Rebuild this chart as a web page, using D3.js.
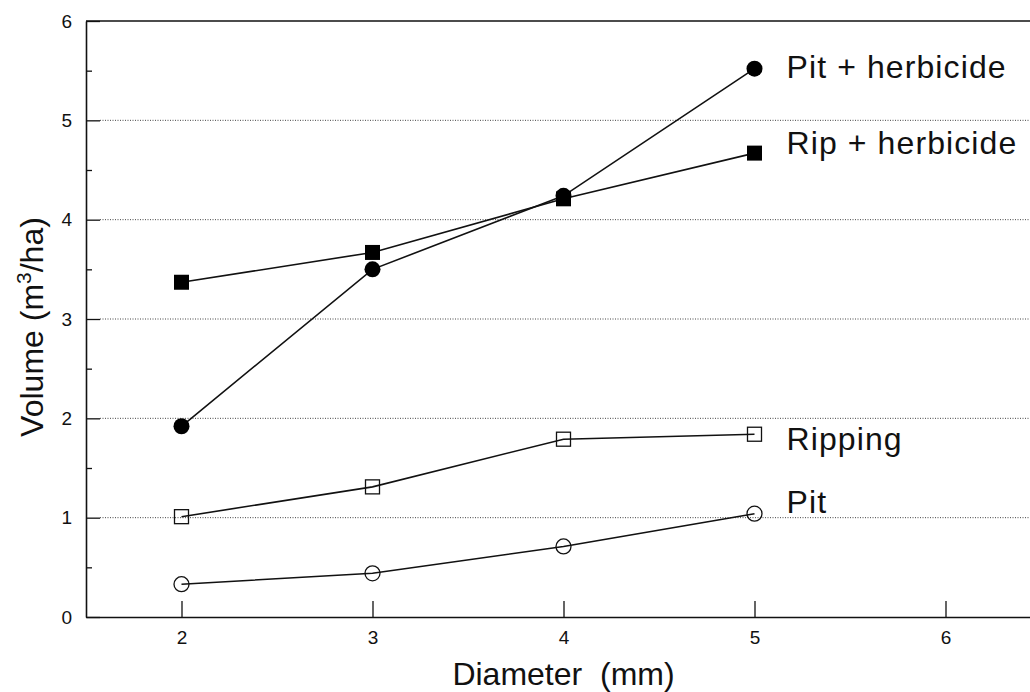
<!DOCTYPE html>
<html>
<head>
<meta charset="utf-8">
<script src="https://cdn.jsdelivr.net/npm/d3@7"></script>
<style>
  html, body { margin: 0; padding: 0; background: #fff; }
  svg { display: block; font-family: "Liberation Sans", Arial, Helvetica, sans-serif; }
</style>
</head>
<body>
<svg id="chart" width="1030" height="692"></svg>
<script>
// ---- data ----
const diameters = [2, 3, 4, 5];
const pitHerbicide = [1.92, 3.50, 4.24, 5.52];
const ripHerbicide = [3.37, 3.67, 4.21, 4.67];
const ripping = [1.01, 1.31, 1.79, 1.84];
const pit = [0.33, 0.44, 0.71, 1.04];
const seriesNames = ["Pit + herbicide", "Rip + herbicide", "Ripping", "Pit"];
const xTicks = [2, 3, 4, 5, 6];
const yTicks = [0, 1, 2, 3, 4, 5, 6];
const yMinorTicks = [0.5, 1.5, 2.5, 3.5, 4.5, 5.5];
const yGrid = [1, 2, 3, 4, 5];
const xTitle = "Diameter  (mm)";

// ---- layout ----
const svg = d3.select("#chart");
const x = d3.scaleLinear().domain([1.5, 6.5]).range([86, 1041]);
const y = d3.scaleLinear().domain([0, 6]).range([617, 21]);

const series = [
  { name: seriesNames[0], values: pitHerbicide, marker: "circle", filled: true, dy: 9 },
  { name: seriesNames[1], values: ripHerbicide, marker: "square", filled: true, dy: 1 },
  { name: seriesNames[2], values: ripping, marker: "square", filled: false, dy: 16 },
  { name: seriesNames[3], values: pit, marker: "circle", filled: false, dy: -1 }
];

// grid lines (dotted)
svg.append("g").selectAll("line").data(yGrid).join("line")
  .attr("x1", 100).attr("x2", x.range()[1])
  .attr("y1", d => y(d)).attr("y2", d => y(d))
  .attr("stroke", "#444").attr("stroke-width", 1)
  .attr("stroke-dasharray", "1,1.5");

// top frame
svg.append("line")
  .attr("x1", x.range()[0]).attr("x2", x.range()[1])
  .attr("y1", y(6)).attr("y2", y(6))
  .attr("stroke", "#111").attr("stroke-width", 1.6);

// y axis major
svg.append("g").attr("transform", `translate(${x.range()[0]},0)`)
  .call(d3.axisLeft(y).tickValues(yTicks).tickSize(-14).tickSizeOuter(0).tickPadding(14)
    .tickFormat(d3.format("d")));
// y axis minor
svg.append("g").attr("transform", `translate(${x.range()[0]},0)`)
  .call(d3.axisLeft(y).tickValues(yMinorTicks).tickSize(-6).tickSizeOuter(0).tickFormat(""))
  .call(g => g.select(".domain").remove());

// x axis
svg.append("g").attr("transform", `translate(0,${y.range()[0]})`)
  .call(d3.axisBottom(x).tickValues(xTicks).tickSize(-16).tickSizeOuter(0).tickPadding(14)
    .tickFormat(d3.format("d")));

svg.selectAll(".domain").attr("stroke", "#111").attr("stroke-width", 1.6);
svg.selectAll(".tick line").attr("stroke", "#111").attr("stroke-width", 1.3);
svg.selectAll(".tick text").attr("font-size", 19).attr("fill", "#111")
  .attr("font-family", "'Liberation Sans', Arial, sans-serif");

// lines
const line = d3.line().x((d, i) => x(diameters[i])).y(d => y(d));
svg.append("g").selectAll("path").data(series).join("path")
  .attr("d", s => line(s.values))
  .attr("fill", "none").attr("stroke", "#111").attr("stroke-width", 1.6);

// markers
series.forEach(s => {
  const g = svg.append("g");
  const pts = s.values.map((v, i) => ({ x: diameters[i], y: v }));
  if (s.marker === "circle") {
    g.selectAll("circle").data(pts).join("circle")
      .attr("cx", d => x(d.x)).attr("cy", d => y(d.y))
      .attr("r", s.filled ? 8 : 7.5)
      .attr("fill", s.filled ? "#000" : "none")
      .attr("stroke", "#111").attr("stroke-width", s.filled ? 0 : 1.3);
  } else {
    const sz = s.filled ? 15 : 14;
    g.selectAll("rect").data(pts).join("rect")
      .attr("x", d => x(d.x) - sz / 2).attr("y", d => y(d.y) - sz / 2)
      .attr("width", sz).attr("height", sz)
      .attr("fill", s.filled ? "#000" : "none")
      .attr("stroke", "#111").attr("stroke-width", s.filled ? 0 : 1.3);
  }
  // series label
  const last = s.values.length - 1;
  svg.append("text")
    .attr("x", x(diameters[last]) + 32)
    .attr("y", y(s.values[last]) + s.dy)
    .attr("font-size", 32).attr("fill", "#111")
    .attr("letter-spacing", 1.1)
    .text(s.name);
});

// axis titles
svg.append("text")
  .attr("x", (x(1.5) + x(6.5)) / 2).attr("y", 685)
  .attr("text-anchor", "middle").attr("font-size", 32).attr("fill", "#111")
  .attr("xml:space", "preserve").style("white-space", "pre")
  .text(xTitle);

const yt = svg.append("text")
  .attr("transform", `translate(43,${(y(0) + y(6)) / 2 + 8}) rotate(-90)`)
  .attr("text-anchor", "middle").attr("font-size", 32).attr("fill", "#111");
yt.append("tspan").text("Volume (m");
yt.append("tspan").attr("dy", -12).attr("font-size", 21).text("3");
yt.append("tspan").attr("dy", 12).text("/ha)");
</script>
</body>
</html>
